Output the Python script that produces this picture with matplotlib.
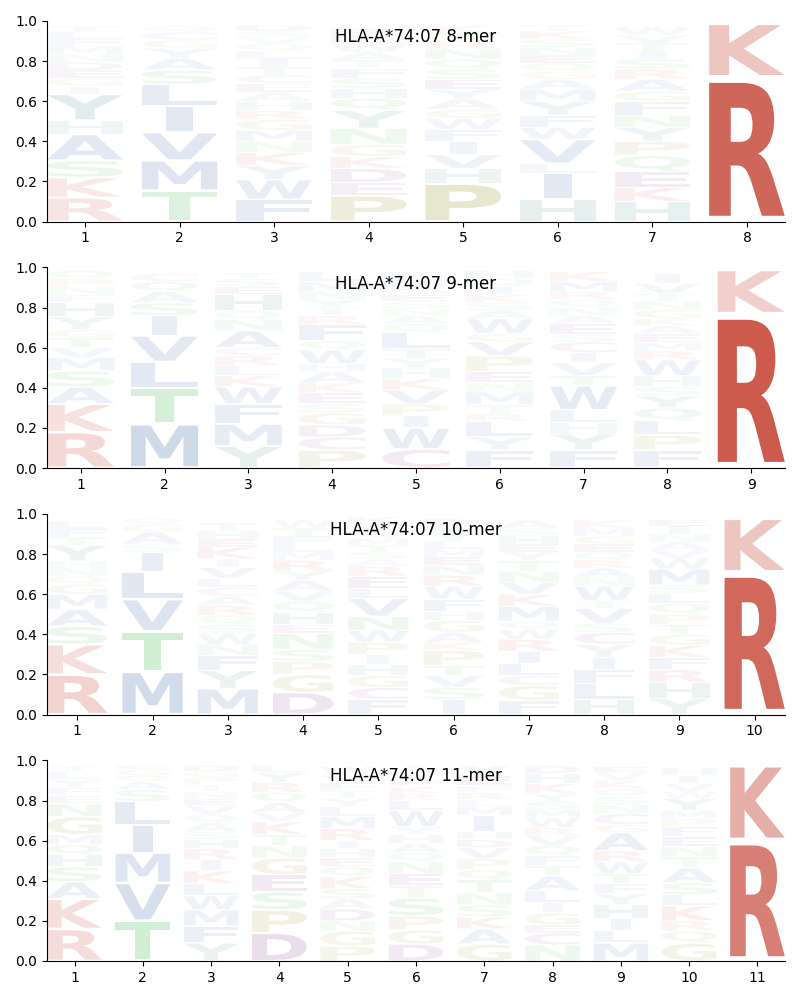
import numpy as np
import matplotlib
matplotlib.use("Agg")
import matplotlib.pyplot as plt
from matplotlib.textpath import TextPath
from matplotlib.patches import PathPatch
from matplotlib.font_manager import FontProperties
import matplotlib.transforms as mtransforms

allele = "HLA-A*74:07"

# letters of each position, bottom to top, with their heights
mer8_letters = ["RKSAHYIGEDNMFLT", "TMVILSAYGCQ", "FWYKNMGRHAECTILQVSD",
                "PEDKGNYQHSFTAWLR", "PHVIFWGAYESQNRTK", "HILVWFYMAGQENSKT",
                "HKEQPYNFGARSITVW", "RK"]
mer8_heights = [
    [.12, .10, .085, .13, .07, .13, .04, .04, .04, .04, .04, .04, .04, .03, .03],
    [.155, .15, .14, .13, .11, .07, .06, .05, .04, .04, .03],
    [.11, .10, .07, .065, .055, .055, .055, .045, .045, .045, .045, .04, .04, .04, .04, .035, .035, .03, .03],
    [.13, .065, .07, .06, .06, .08, .09, .06, .05, .05, .05, .04, .04, .04, .04, .04],
    [.19, .075, .07, .065, .06, .055, .045, .05, .05, .05, .05, .05, .05, .04, .04, .04],
    [.11, .13, .05, .12, .06, .06, .07, .06, .05, .04, .04, .04, .04, .04, .04, .03],
    [.10, .07, .08, .08, .07, .07, .06, .07, .05, .06, .05, .05, .04, .04, .04, .04],
    [.72, .27],
]

mer9_letters = ["RKASMVTGYHFNPQ", "MTLVISAQC", "YMFWKLRCANQHEST",
                "PCDGSEKAHWQFRTYNML", "CWIPVKHYTLQANSEGMF", "FYLRTMNEPVGWASKIQH",
                "FYHLWTVICSEANQRMK", "FPLQYSHWRMEAKGNTVI", "RK"]
mer9_heights = [
    [.18, .14, .085, .08, .065, .05, .05, .04, .065, .07, .04, .04, .04, .04],
    [.22, .18, .13, .13, .10, .065, .055, .05, .04],
    [.11, .11, .10, .085, .055, .05, .05, .04, .085, .055, .045, .08, .04, .04, .03],
    [.09, .065, .06, .06, .045, .055, .05, .055, .04, .07, .045, .08, .045, .04, .04, .04, .05, .05],
    [.095, .105, .06, .06, .07, .055, .055, .045, .05, .08, .045, .04, .035, .035, .035, .035, .04, .04],
    [.09, .065, .08, .035, .045, .065, .045, .055, .08, .07, .04, .075, .04, .04, .04, .04, .04, .04],
    [.09, .08, .055, .065, .12, .05, .065, .05, .055, .035, .055, .04, .04, .04, .04, .05, .05],
    [.09, .075, .07, .065, .06, .045, .055, .08, .045, .04, .045, .04, .035, .045, .04, .04, .05, .05],
    [.77, .22],
]

mer10_letters = ["RKSAMGQNHYTFL", "MTVLISAGQ", "MYFNWSQRACLVIKEHT",
                 "DGPSNEHQVAYRMLFTW", "FCGHIPWNVLERASTMQYK", "ISVTPKAGHFWRNEMLYQD",
                 "FGCLIRWQMKVNTYEHSA", "HLFIYCSVTWNARQEGMK", "YHRFKGTPQLSMWVANIE", "RK"]
mer10_heights = [
    [.20, .15, .09, .085, .075, .05, .04, .04, .035, .08, .04, .04, .04],
    [.215, .20, .16, .135, .10, .04, .06, .04, .03],
    [.13, .09, .075, .055, .055, .045, .045, .05, .045, .045, .045, .055, .04, .06, .04, .04, .04],
    [.11, .09, .065, .06, .08, .045, .06, .055, .05, .055, .045, .055, .04, .04, .04, .04, .04],
    [.075, .06, .06, .055, .05, .06, .06, .07, .09, .05, .06, .05, .035, .035, .035, .035, .035, .04, .03],
    [.075, .06, .06, .05, .075, .04, .05, .06, .045, .06, .065, .055, .05, .04, .04, .04, .04, .04, .03],
    [.07, .075, .05, .06, .06, .06, .05, .04, .075, .06, .06, .055, .055, .04, .04, .04, .04, .04],
    [.075, .08, .07, .06, .065, .06, .045, .075, .04, .07, .045, .045, .04, .04, .04, .04, .04, .04],
    [.08, .08, .065, .06, .06, .055, .05, .05, .055, .05, .04, .08, .055, .04, .04, .04, .04, .03],
    [.71, .27],
]

mer11_letters = ["RKASHQMGNEFYLT", "TVMILSAQGC", "YFMWLKIRHSAQVENTPGD",
                 "DPSEGNTKVAQRYL", "PGNDASKQEHIRMLYTFVW", "DGPSTENQAHYWLRKFVI",
                 "GAKSNTQPVDHIMLRFEY", "NCEGILATFQVRWMSYKHD", "MLIHYFTWRAGCNSQKVE",
                 "GQRKLSATNEFPMYWVIH", "RK"]
mer11_heights = [
    [.16, .15, .085, .075, .06, .05, .05, .09, .065, .04, .04, .04, .04, .03],
    [.20, .19, .15, .14, .115, .06, .04, .03, .03, .02],
    [.09, .085, .08, .07, .06, .065, .055, .055, .045, .04, .045, .04, .045, .035, .035, .035, .035, .03, .03],
    [.14, .115, .09, .085, .085, .06, .055, .065, .045, .05, .05, .05, .05, .04],
    [.075, .075, .05, .06, .05, .05, .06, .05, .045, .045, .04, .06, .06, .05, .04, .04, .04, .04, .04],
    [.085, .07, .07, .09, .06, .06, .06, .045, .045, .045, .04, .08, .05, .035, .035, .035, .04, .03],
    [.085, .075, .06, .06, .06, .065, .05, .055, .055, .04, .04, .08, .045, .035, .035, .035, .05, .05],
    [.08, .06, .04, .06, .05, .06, .075, .05, .05, .05, .05, .04, .05, .04, .04, .04, .05, .05, .04],
    [.09, .06, .06, .07, .055, .05, .05, .06, .055, .09, .04, .055, .045, .04, .04, .04, .04, .03],
    [.09, .06, .05, .075, .055, .06, .075, .055, .05, .05, .05, .04, .04, .06, .035, .04, .04, .04],
    [.60, .38],
]

# residue colour groups
group_colors = {
    "KR": (198, 70, 55),
    "DE": (120, 50, 130),
    "C": (150, 70, 140),
    "NQST": (60, 180, 70),
    "GP": (150, 145, 40),
    "HY": (50, 140, 130),
    "AVLIMFW": (70, 110, 170),
}
aa_color = {}
for group, rgb in group_colors.items():
    for aa in group:
        aa_color[aa] = tuple(c / 255 for c in rgb)

font = FontProperties(family="DejaVu Sans", weight="bold")
ref_width = TextPath((0, 0), "E", size=1, prop=font).get_extents().width


def draw_letter(ax, ch, xc, y0, w, h, color, alpha):
    tp = TextPath((0, 0), ch, size=1, prop=font)
    bb = tp.get_extents()
    # narrow glyphs (I) keep their relative width
    ratio = bb.width / ref_width
    if ratio < 0.5:
        w = w * ratio
    t = (mtransforms.Affine2D()
         .translate(-bb.x0, -bb.y0)
         .scale(w / bb.width, h / bb.height)
         .translate(xc - w / 2, y0))
    ax.add_patch(PathPatch(t.transform_path(tp), facecolor=color,
                           edgecolor="none", alpha=alpha))


def draw_logo(ax, letters, heights, title):
    n = len(letters)
    for i, (seq, hs) in enumerate(zip(letters, heights)):
        pos = i + 1
        bottom = 0.0
        for ch, h in zip(seq, hs):
            pad = h * 0.04
            alpha = min(1.0, max(0.04, 1.15 * h))
            draw_letter(ax, ch, pos, bottom + pad, 0.8, h - 2 * pad,
                        aa_color[ch], alpha)
            bottom += h
    ax.set_xlim(0.6, n + 0.4)
    ax.set_ylim(0, 1)
    ax.set_xticks(range(1, n + 1))
    ax.set_yticks(np.arange(0, 1.01, 0.2))
    ax.spines["top"].set_visible(False)
    ax.spines["right"].set_visible(False)
    ax.text(0.5, 0.92, title, transform=ax.transAxes, ha="center",
            va="center", fontsize=12, zorder=10)


fig, axes = plt.subplots(4, 1, figsize=(8, 10), dpi=100)
fig.subplots_adjust(left=0.059, right=0.981, top=0.979, bottom=0.039, hspace=0.229)

panels = [
    (mer8_letters, mer8_heights, 8),
    (mer9_letters, mer9_heights, 9),
    (mer10_letters, mer10_heights, 10),
    (mer11_letters, mer11_heights, 11),
]
for ax, (letters, heights, k) in zip(axes, panels):
    draw_logo(ax, letters, heights, f"{allele} {k}-mer")

fig.savefig("out.png", dpi=100)
